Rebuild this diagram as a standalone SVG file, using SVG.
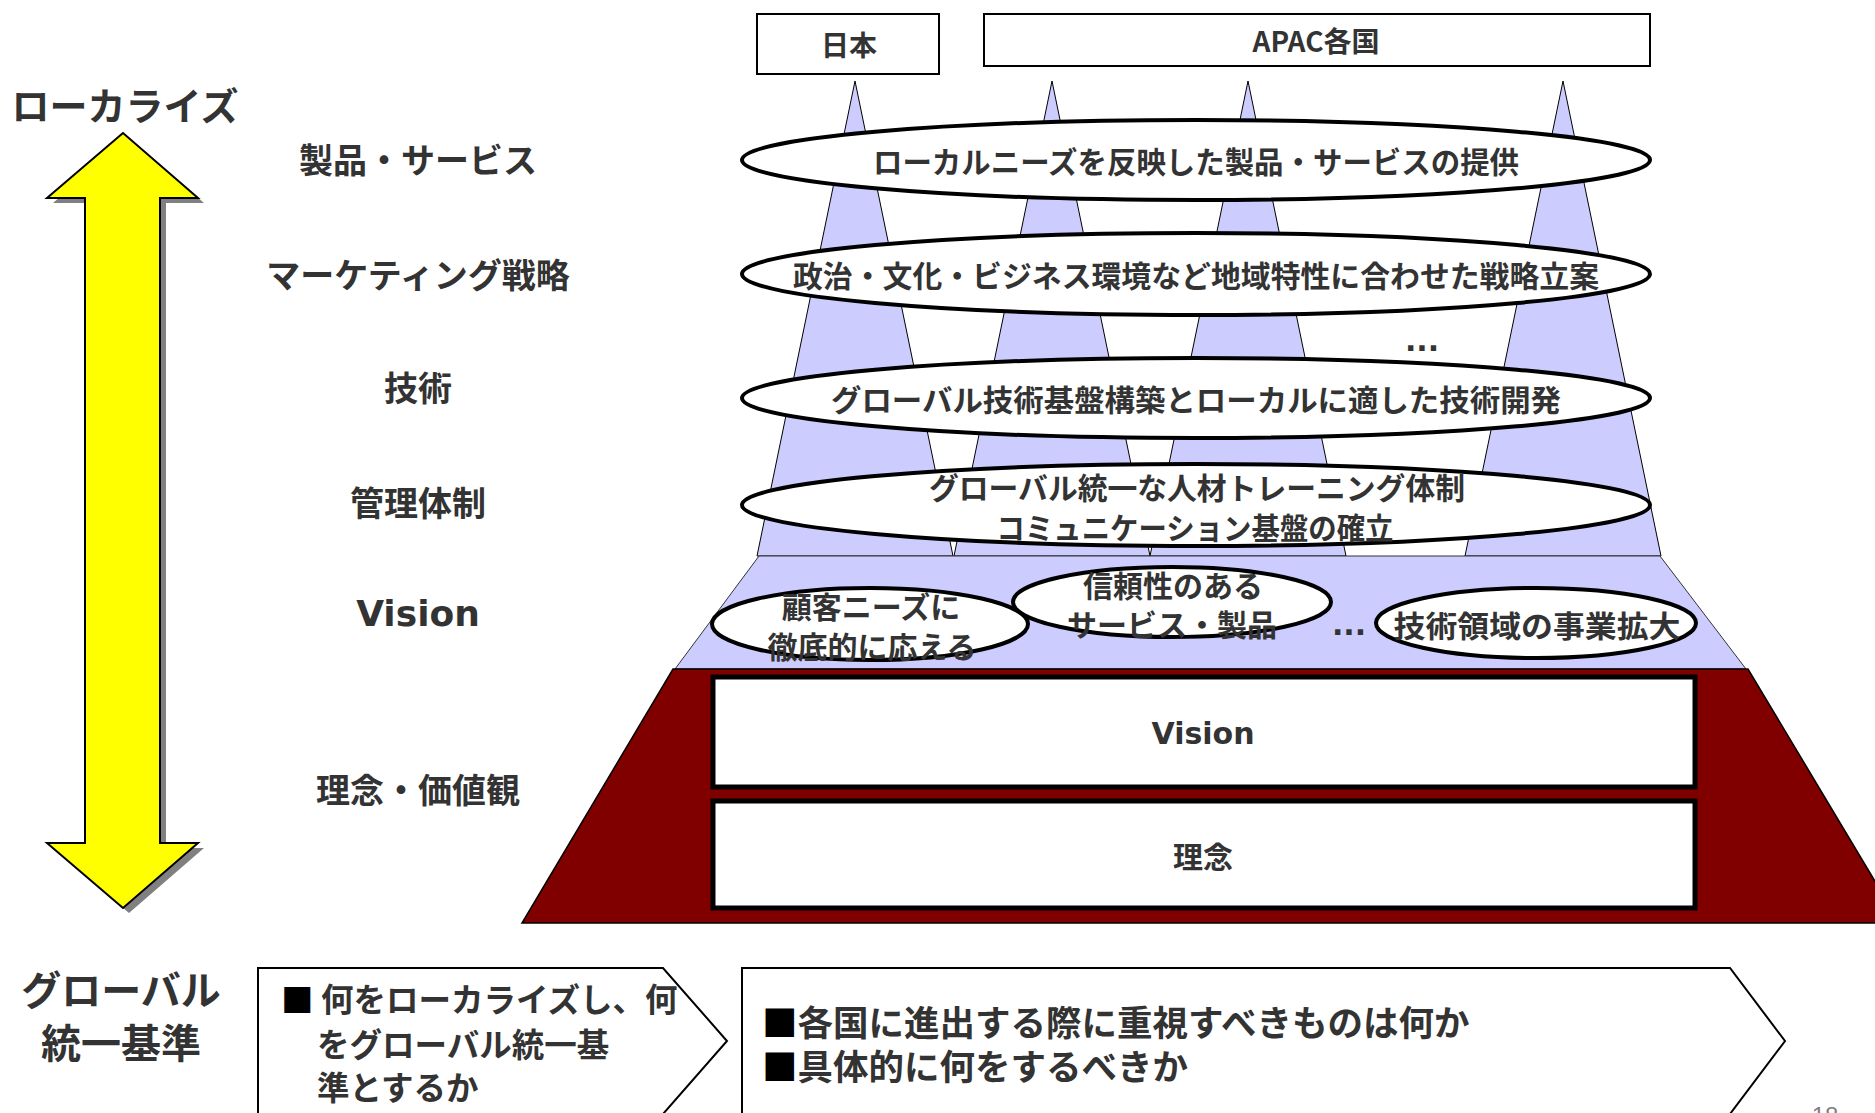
<svg xmlns="http://www.w3.org/2000/svg" width="1875" height="1113" viewBox="0 0 1875 1113">
<style>
.jp{font-family:"Noto Sans CJK JP","Noto Sans",sans-serif;font-weight:bold;fill:#333}
.c{text-anchor:middle;dominant-baseline:central}
.lbl{font-size:34px}
.el{font-size:30px}
.lat{font-family:"DejaVu Sans",Verdana,sans-serif;font-weight:bold;fill:#333}
.spike{fill:#CCCCFF;stroke:#000;stroke-width:1}
.oval{fill:#fff;stroke:#000;stroke-width:4}
.box{fill:#fff;stroke:#000;stroke-width:2}
.wbox{fill:#fff;stroke:#000;stroke-width:5}
.chev{fill:#fff;stroke:#000;stroke-width:2}
</style>
<rect width="1875" height="1113" fill="#fff"/>

<g id="axis-arrow">
  <polygon points="123,133 47,198 85,198 85,843 47,843 123,908 198,843 160,843 160,198 198,198" fill="#808080" transform="translate(6,5)"/>
  <polygon points="123,133 47,198 85,198 85,843 47,843 123,908 198,843 160,843 160,198 198,198" fill="#FFFF00" stroke="#000" stroke-width="2"/>
</g>
<g id="axis-labels">
  <text class="jp c" x="125" y="103" font-size="38" font-weight="normal">ローカライズ</text>
  <text class="jp c" x="121" y="988" font-size="40" font-weight="normal">グローバル</text>
  <text class="jp c" x="121" y="1041" font-size="40" font-weight="normal">統一基準</text>
</g>
<g id="layer-labels">
  <text class="jp c lbl" x="418" y="158">製品・サービス</text>
  <text class="jp c lbl" x="418" y="273">マーケティング戦略</text>
  <text class="jp c lbl" x="418" y="386">技術</text>
  <text class="jp c lbl" x="418" y="501">管理体制</text>
  <text class="lat c" x="418" y="613" font-size="36">Vision</text>
  <text class="jp c lbl" x="418" y="788">理念・価値観</text>
</g>

<g id="country-japan">
  <rect class="box" x="757" y="14" width="182" height="60"/>
  <text class="jp c" x="849" y="44" font-size="28">日本</text>
</g>
<g id="country-apac">
  <rect class="box" x="984" y="14" width="666" height="52"/>
  <text class="jp c" x="1316" y="40" font-size="28">APAC各国</text>
</g>

<g id="spikes">
  <polygon class="spike" points="855,81 953,556 757,556"/>
  <polygon class="spike" points="1052,81 1150,556 954,556"/>
  <polygon class="spike" points="1248,81 1346,556 1150,556"/>
  <polygon class="spike" points="1563,81 1661,556 1465,556"/>
</g>

<g id="vision-band">
  <polygon points="759,556 1660,556 1746,669 675,669" fill="#CCCCFF" stroke="#333" stroke-width="1"/>
</g>
<g id="base">
  <polygon points="673,669 1748,669 1900,923 522,923" fill="#800000" stroke="#000" stroke-width="1.5"/>
</g>

<g id="oval-product">
  <ellipse class="oval" cx="1196" cy="160" rx="454" ry="40"/>
  <text class="jp c el" x="1196" y="160" textLength="646" lengthAdjust="spacingAndGlyphs">ローカルニーズを反映した製品・サービスの提供</text>
</g>
<g id="oval-marketing">
  <ellipse class="oval" cx="1196" cy="274" rx="454" ry="41"/>
  <text class="jp c el" x="1196" y="274" textLength="806" lengthAdjust="spacingAndGlyphs">政治・文化・ビジネス環境など地域特性に合わせた戦略立案</text>
</g>
<text id="dots-upper" class="lat c" x="1422" y="340" font-size="30">...</text>
<g id="oval-tech">
  <ellipse class="oval" cx="1196" cy="398" rx="454" ry="40"/>
  <text class="jp c el" x="1196" y="398" textLength="730" lengthAdjust="spacingAndGlyphs">グローバル技術基盤構築とローカルに適した技術開発</text>
</g>
<g id="oval-management">
  <ellipse class="oval" cx="1196" cy="505" rx="454" ry="41"/>
  <text class="jp c el" x="1197" y="486" textLength="536" lengthAdjust="spacingAndGlyphs">グローバル統一な人材トレーニング体制</text>
  <text class="jp c el" x="1195" y="526" textLength="397" lengthAdjust="spacingAndGlyphs">コミュニケーション基盤の確立</text>
</g>

<g id="vision-customer">
  <ellipse class="oval" cx="870" cy="624" rx="158" ry="36"/>
  <text class="jp c el" x="871" y="605">顧客ニーズに</text>
  <text class="jp c el" x="872" y="645">徹底的に応える</text>
</g>
<g id="vision-reliable">
  <ellipse class="oval" cx="1172" cy="602" rx="159" ry="35"/>
  <text class="jp c el" x="1173" y="584">信頼性のある</text>
  <text class="jp c el" x="1172" y="623">サービス・製品</text>
</g>
<text id="dots-vision" class="lat c" x="1349" y="624" font-size="30">...</text>
<g id="vision-tech">
  <ellipse class="oval" cx="1536" cy="623" rx="160" ry="35"/>
  <text class="jp c el" x="1537" y="624" textLength="287" lengthAdjust="spacingAndGlyphs">技術領域の事業拡大</text>
</g>

<g id="base-vision">
  <rect class="wbox" x="713" y="677" width="982" height="110"/>
  <text class="lat c" x="1203" y="733" font-size="30">Vision</text>
</g>
<g id="base-rinen">
  <rect class="wbox" x="713" y="801" width="982" height="107"/>
  <text class="jp c" x="1203" y="855" font-size="30">理念</text>
</g>

<g id="question-1">
  <polygon class="chev" points="258,968 663,968 727,1041 663,1114 258,1114"/>
  <text class="jp" font-size="32.5" font-weight="normal" x="281" y="1012"><tspan fill="#000">■</tspan> 何をローカライズし、何</text>
  <text class="jp" font-size="32.5" font-weight="normal" x="317" y="1057">をグローバル統一基</text>
  <text class="jp" font-size="32.5" font-weight="normal" x="317" y="1100">準とするか</text>
</g>
<g id="question-2">
  <polygon class="chev" points="742,968 1730,968 1785,1041 1730,1114 742,1114"/>
  <text class="jp" font-size="35.5" font-weight="normal" x="762" y="1036"><tspan fill="#000">■</tspan>各国に進出する際に重視すべきものは何か</text>
  <text class="jp" font-size="35.5" font-weight="normal" x="762" y="1080"><tspan fill="#000">■</tspan>具体的に何をするべきか</text>
</g>
<text id="page-number" x="1825" y="1124" text-anchor="middle" font-family="Liberation Sans, Arial, sans-serif" font-size="24" fill="#808080">18</text>
</svg>
